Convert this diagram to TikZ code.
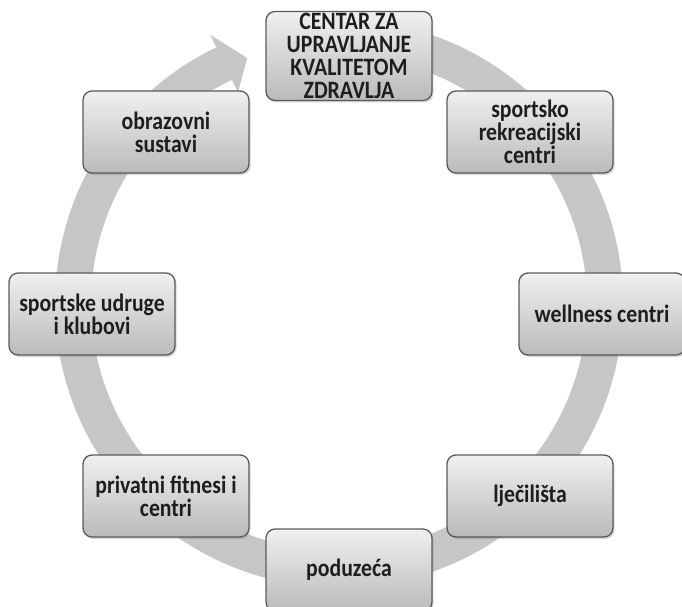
\documentclass[tikz,border=0pt]{standalone}
\usepackage{fontspec}
\newfontfamily\boxfont{Carlito}[FakeStretch=0.87]
\usetikzlibrary{calc,shadows}
\definecolor{ringgray}{HTML}{C6C6C6}
\definecolor{boxtop}{HTML}{F0F0F0}
\definecolor{boxbot}{HTML}{BABABA}
\definecolor{boxline}{HTML}{5A5A5A}
\definecolor{txt}{HTML}{1E1E1E}
\tikzset{
  cyclebox/.style={draw=boxline, line width=1.3pt, rounded corners=9pt,
    top color=boxtop, bottom color=boxbot,
    minimum width=166pt, minimum height=82pt, inner sep=2pt,
    align=center, text=txt,
    font=\boxfont\bfseries\fontsize{25pt}{22.8pt}\selectfont,
    drop shadow={opacity=0.3, shadow xshift=1.5pt, shadow yshift=-2pt}},
}
\begin{document}
\begin{tikzpicture}
\useasboundingbox (0pt,0pt) rectangle (682pt,-607pt);
\coordinate (C) at (339pt,-303.5pt);
% ring arrow
\fill[ringgray]
  ($(C)+(85:284pt)$) arc[start angle=85, end angle=-244.4, radius=284pt]
  -- ($(C)+(115.6:298pt)$)
  -- ($(C)+(110.5:262pt)$)
  -- ($(C)+(115.6:234pt)$)
  -- ($(C)+(115.6:248pt)$)
  arc[start angle=-244.4, end angle=85, radius=248pt] -- cycle;
% boxes
\node[cyclebox] (top) at (349pt,-56pt) {CENTAR ZA\\UPRAVLJANJE\\KVALITETOM\\ZDRAVLJA};
\node[cyclebox] (sport) at (530pt,-132pt) {sportsko\\rekreacijski\\centri};
\node[cyclebox] (well) at (602pt,-314pt) {wellness centri};
\node[cyclebox] (ljec) at (530pt,-496pt) {lječilišta};
\node[cyclebox] (podu) at (349pt,-570pt) {poduzeća};
\node[cyclebox] (priv) at (166pt,-496pt) {privatni fitnesi i\\centri};
\node[cyclebox] (udru) at (92pt,-314pt) {sportske udruge\\i klubovi};
\node[cyclebox] (obra) at (166pt,-132pt) {obrazovni\\sustavi};
\end{tikzpicture}
\end{document}
